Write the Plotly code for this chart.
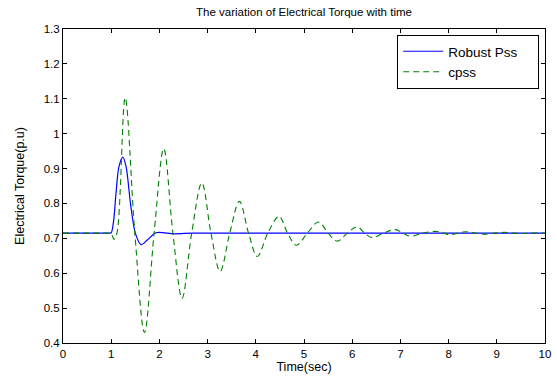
import plotly.graph_objects as go

# Robust PSS response
robust_t = [0, 0.3, 0.6, 0.85, 0.95, 1.0, 1.05, 1.10, 1.16, 1.24, 1.31, 1.40, 1.50, 1.62, 1.75,
            1.93, 2.3, 2.7, 3.5, 5, 7, 10]
robust_v = [0.715, 0.715, 0.715, 0.715, 0.715, 0.716, 0.75, 0.83, 0.905, 0.933, 0.905, 0.80,
            0.715, 0.682, 0.695, 0.716, 0.713, 0.715, 0.715, 0.715, 0.715, 0.715]

# Conventional PSS response
cpss_t = [0, 0.3, 0.6, 0.85, 0.95, 1.0, 1.06, 1.12, 1.29, 1.49, 1.69, 1.89, 2.09, 2.28, 2.47,
          2.67, 2.88, 3.07, 3.26, 3.46, 3.66, 3.85, 4.03, 4.25, 4.48, 4.66, 4.84, 5.07, 5.30,
          5.50, 5.69, 5.90, 6.10, 6.26, 6.41, 6.65, 6.90, 7.05, 7.21, 7.47, 7.73, 7.90, 8.04,
          8.20, 8.35, 8.55, 8.75, 8.95, 9.15, 9.35, 9.55, 9.75, 10]
cpss_v = [0.715, 0.715, 0.715, 0.715, 0.715, 0.713, 0.697, 0.715, 1.103, 0.715, 0.430, 0.715,
          0.957, 0.715, 0.528, 0.715, 0.859, 0.715, 0.605, 0.715, 0.806, 0.715, 0.648, 0.715,
          0.763, 0.715, 0.680, 0.715, 0.747, 0.715, 0.692, 0.715, 0.733, 0.715, 0.702, 0.715,
          0.725, 0.715, 0.706, 0.715, 0.720, 0.715, 0.710, 0.715, 0.719, 0.715, 0.712, 0.715,
          0.717, 0.715, 0.714, 0.715, 0.715]

x_ticks = [0, 1, 2, 3, 4, 5, 6, 7, 8, 9, 10]
y_ticks = [0.4, 0.5, 0.6, 0.7, 0.8, 0.9, 1.0, 1.1, 1.2, 1.3]
y_labels = ["0.4", "0.5", "0.6", "0.7", "0.8", "0.9", "1", "1.1", "1.2", "1.3"]

FONT = "Liberation Sans, Arial, sans-serif"
PAD = "\u00a0" * 4

fig = go.Figure()
fig.add_trace(go.Scatter(x=robust_t, y=robust_v, mode="lines", name="Robust Pss" + PAD,
                         line=dict(color="#0000FF", width=1.2, shape="spline", smoothing=0.8)))
fig.add_trace(go.Scatter(x=cpss_t, y=cpss_v, mode="lines", name="cpss",
                         line=dict(color="#008000", width=1.1, dash="6px,4px",
                                   shape="spline", smoothing=1.0)))

axis_common = dict(showgrid=False, zeroline=False, showline=True, linecolor="black",
                   linewidth=1, mirror="allticks", ticks="inside", ticklen=4,
                   tickcolor="black", automargin=False,
                   tickfont=dict(family=FONT, size=11.5, color="black"))

fig.update_layout(
    template="none",
    width=557, height=377,
    margin=dict(l=63, r=12, t=29, b=34, pad=0),
    paper_bgcolor="white", plot_bgcolor="white",
    font=dict(family=FONT, size=11, color="black"),
    title=dict(text="The variation of Electrical Torque with time", x=0.5, xref="paper",
               xanchor="center", y=1, yref="container", yanchor="top", pad=dict(t=8),
               font=dict(family=FONT, size=11.5, color="black")),
    xaxis=dict(range=[0, 10], tickvals=x_ticks,
               title=dict(text="Time(sec)", font=dict(family=FONT, size=12.5), standoff=2),
               **axis_common),
    yaxis=dict(range=[0.4, 1.3], tickvals=y_ticks, ticktext=y_labels,
               title=dict(text="Electrical Torque(p.u)", font=dict(family=FONT, size=12.5), standoff=16),
               **axis_common),
    legend=dict(x=0.988, y=0.981, xanchor="right", yanchor="top", bgcolor="white",
                bordercolor="black", borderwidth=1,
                font=dict(family=FONT, size=13.5, color="black"),
                tracegroupgap=0, itemwidth=40),
    showlegend=True,
)

fig.write_html("out.html")
